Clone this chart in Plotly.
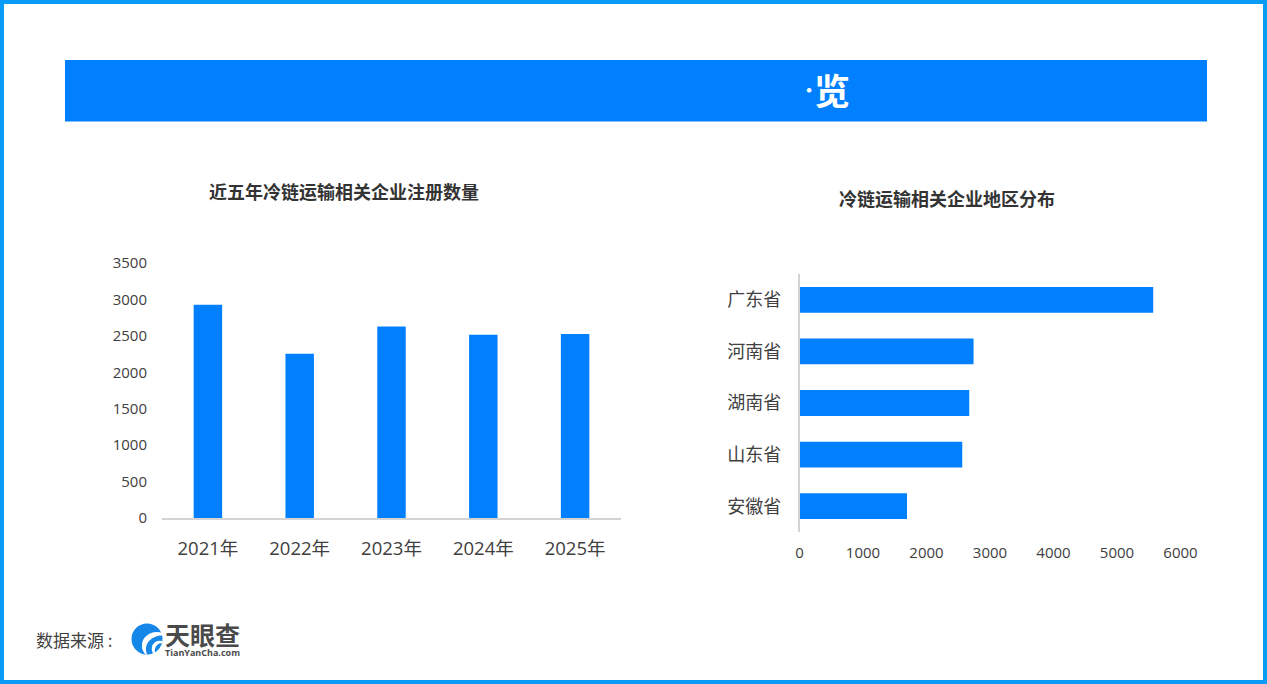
import plotly.graph_objects as go

years = ["2021年", "2022年", "2023年", "2024年", "2025年"]
registrations = [2926, 2253, 2628, 2514, 2527]
provinces = ["广东省", "河南省", "湖南省", "山东省", "安徽省"]
province_counts = [5570, 2741, 2673, 2563, 1693]
left_title = "近五年冷链运输相关企业注册数量"
right_title = "冷链运输相关企业地区分布"
source_label = "数据来源 :"
logo_cn = "天眼查"
logo_en = "TianYanCha.com"

W, H = 1267, 684
FONT = "'Open Sans', 'Noto Sans CJK SC', sans-serif"
CJK = "'Noto Sans CJK SC', sans-serif"
BAR = "#0080FF"
TEXT = "#404040"
AXIS = "#D4D4D4"

px = lambda x: x / W
py = lambda y: 1 - y / H

fig = go.Figure()
fig.add_bar(x=years, y=registrations, marker_color=BAR, marker_line_width=0,
            xaxis="x", yaxis="y", hoverinfo="skip")
fig.add_bar(x=province_counts, y=provinces, orientation="h", marker_color=BAR,
            marker_line_width=0, xaxis="x2", yaxis="y2", hoverinfo="skip")


def txt(x, y, s, size, color=TEXT, bold=False, family=CJK, anchor="center"):
    fig.add_annotation(x=px(x), y=py(y), xref="paper", yref="paper", text=f"<b>{s}</b>" if bold else s,
                       showarrow=False, xanchor=anchor, yanchor="middle",
                       font=dict(size=size, color=color, family=family), borderpad=0, borderwidth=0)


def logo_path(points):
    return " ".join(
        f"{c} {' '.join(f'{px(a):.5f},{py(b):.5f}' for a, b in pts)}" for c, pts in points
    )


shapes = [
    dict(type="rect", xref="paper", yref="paper", x0=px(2), x1=px(W - 2), y0=py(2), y1=py(H - 2),
         line=dict(color="#0A9BF7", width=4), fillcolor="rgba(0,0,0,0)"),
    dict(type="rect", xref="paper", yref="paper", x0=px(65), x1=px(1207), y0=py(60), y1=py(121.5),
         line_width=0, fillcolor=BAR, layer="below"),
    # logo disc and swooshes
    dict(type="circle", xref="paper", yref="paper", x0=px(131.5), x1=px(162.5), y0=py(654.5), y1=py(623.5),
         line_width=0, fillcolor="#1487E8"),
    dict(type="path", xref="paper", yref="paper", line_width=0, fillcolor="white",
         path=logo_path([("M", [(163, 633)]), ("Q", [(150, 629), (143, 640)]), ("Q", [(140, 648), (145, 654)]),
                         ("L", [(147, 654)]), ("Q", [(144, 647), (149, 641)]), ("Q", [(155, 635), (163, 635.5)]), ("Z", [])])),
    dict(type="path", xref="paper", yref="paper", line_width=0, fillcolor="white",
         path=logo_path([("M", [(162, 641)]), ("Q", [(155, 640), (152, 646)]), ("Q", [(151, 650), (153, 654)]),
                         ("L", [(155, 653.5)]), ("Q", [(154, 648), (157, 645)]), ("Q", [(159, 643), (162, 643)]), ("Z", [])])),
]

txt(832, 88.5, "览", 36, "white", True)
txt(809, 89, "·", 18, "white", True)
txt(344, 191.5, left_title, 18, "#333333", True)
txt(947, 198, right_title, 18, "#333333", True)
txt(36, 639.5, source_label, 17, TEXT, anchor="left")
txt(202.5, 634, logo_cn, 25, "#4A4A4A", True)
txt(202, 652, logo_en, 9, "#4A4A4A", True, family="'Open Sans', sans-serif")

fig.update_layout(
    width=W, height=H, margin=dict(l=0, r=0, t=0, b=0, pad=0, autoexpand=False), paper_bgcolor="white",
    plot_bgcolor="white",
    showlegend=False, shapes=shapes, font=dict(family=FONT, color=TEXT),
    xaxis=dict(domain=[px(162), px(621)], anchor="y", type="category", showgrid=False, showline=True,
               linecolor=AXIS, linewidth=1.5, ticks="", tickfont=dict(size=18.5, family=FONT, color=TEXT),
               ticklabelstandoff=13, fixedrange=True, automargin=False),
    yaxis=dict(domain=[py(518), py(263)], anchor="x", range=[0, 3500], dtick=500, showgrid=False, zeroline=False,
               showline=False, ticks="", tickfont=dict(size=15, family=FONT, color=TEXT),
               ticklabelstandoff=14, fixedrange=True, automargin=False),
    xaxis2=dict(domain=[px(799.5), px(1180.5)], anchor="y2", range=[0, 6000], dtick=1000, showgrid=False,
                zeroline=False, showline=False, ticks="", tickfont=dict(size=15, family=FONT, color=TEXT),
                ticklabelstandoff=10, fixedrange=True, automargin=False),
    yaxis2=dict(domain=[py(532), py(274)], anchor="x2", type="category", autorange="reversed", showgrid=False,
                showline=True, linecolor=AXIS, linewidth=1.5, ticks="", zeroline=False,
                tickfont=dict(size=18, family=CJK, color=TEXT), ticklabelstandoff=13, fixedrange=True,
                automargin=False),
    bargap=0.5,
)
fig.data[0].width = 0.31
fig.data[1].width = 0.5

fig.write_html("out.html", config={"displayModeBar": False},
               post_script="document.body.style.margin='0';document.body.style.overflow='hidden';")
